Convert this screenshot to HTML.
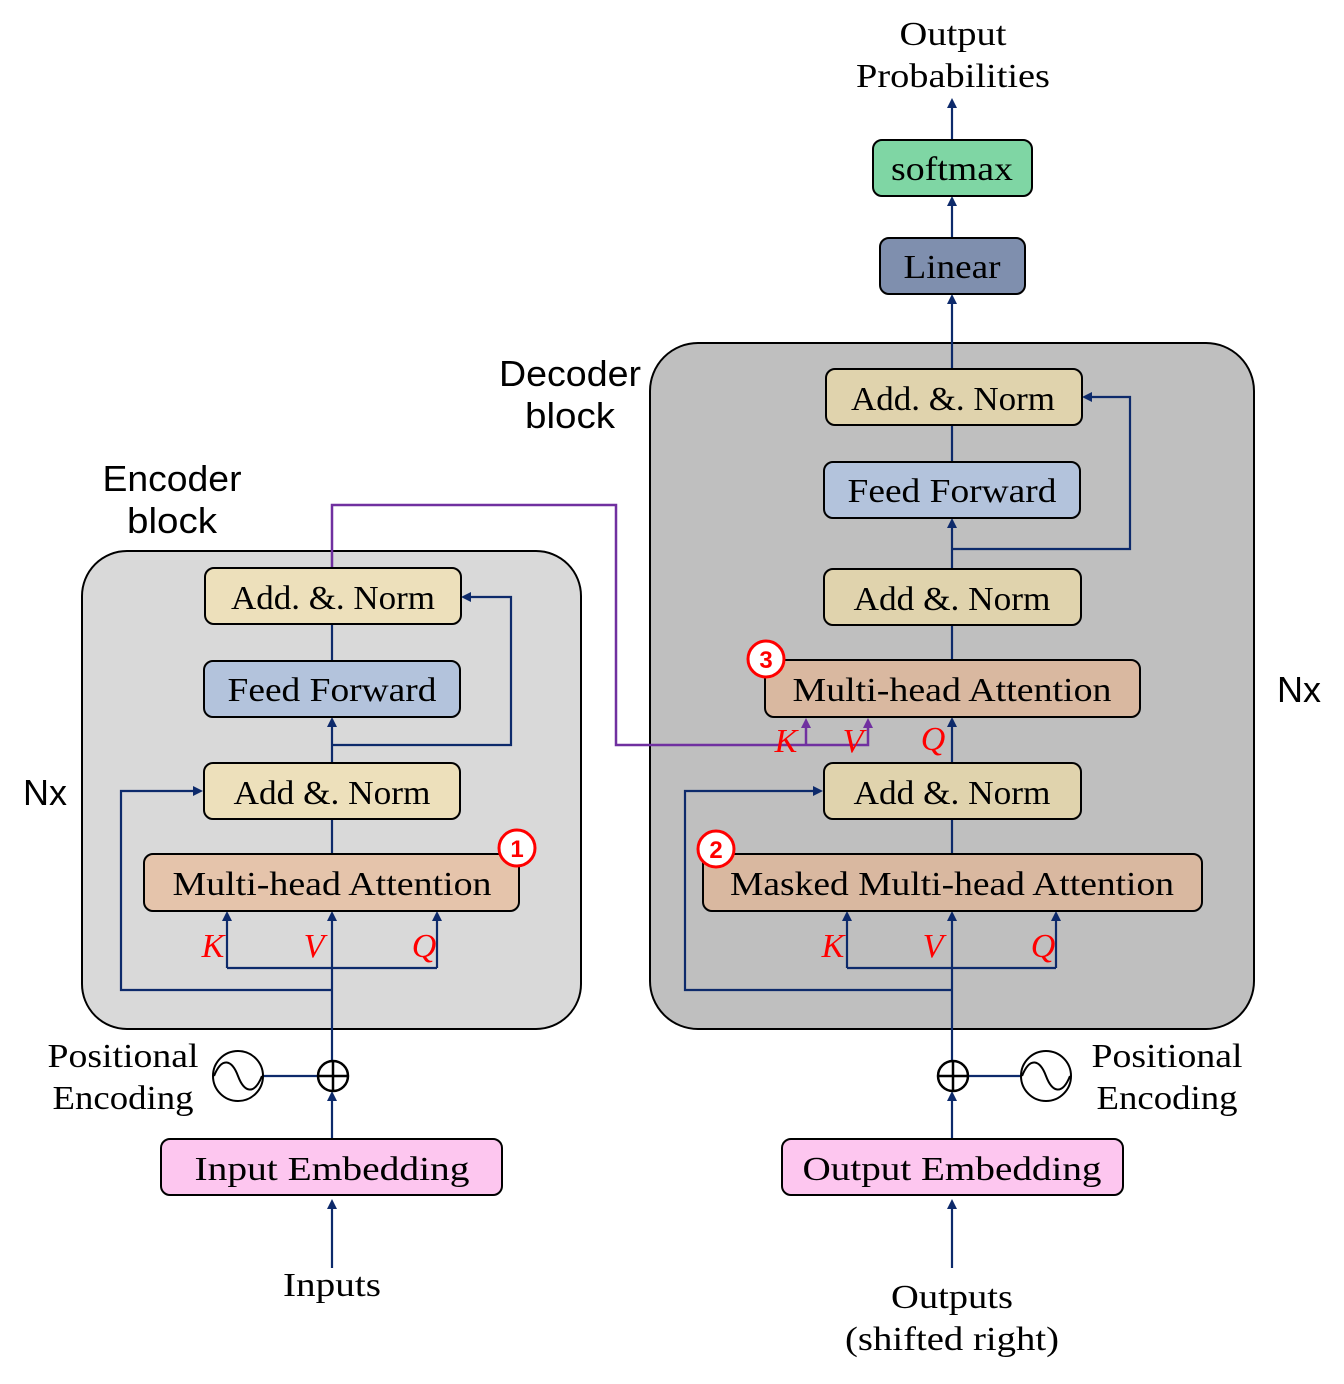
<!DOCTYPE html>
<html><head><style>body{margin:0;background:#fff}svg{display:block}</style></head><body>
<svg width="1344" height="1384" viewBox="0 0 1344 1384" xmlns="http://www.w3.org/2000/svg">
<defs>
<marker id="a" markerWidth="10" markerHeight="10" refX="5" refY="5" orient="auto" markerUnits="userSpaceOnUse"><path d="M0,0 L10,5 L0,10 z" fill="#0d2a6b"/></marker>
<marker id="p" markerWidth="10" markerHeight="10" refX="5" refY="5" orient="auto" markerUnits="userSpaceOnUse"><path d="M0,0 L10,5 L0,10 z" fill="#7030a0"/></marker>
</defs>
<rect x="82" y="551" width="499" height="478" rx="45" fill="#d9d9d9" stroke="#000" stroke-width="2"/>
<rect x="650" y="343" width="604" height="686" rx="48" fill="#bfbfbf" stroke="#000" stroke-width="2"/>
<g stroke="#0d2a6b" stroke-width="2.2" fill="none">
<path d="M332 1268 V1204" marker-end="url(#a)"/>
<path d="M332 1139 V1096" marker-end="url(#a)"/>
<path d="M332 1060 V916" marker-end="url(#a)"/>
<path d="M332 990 H121 V791 H198" marker-end="url(#a)"/>
<path d="M227 968 H437"/>
<path d="M227 968 V916" marker-end="url(#a)"/>
<path d="M437 968 V916" marker-end="url(#a)"/>
<path d="M332 854 V819"/>
<path d="M332 763 V722" marker-end="url(#a)"/>
<path d="M332 745 H511 V597 H466" marker-end="url(#a)"/>
<path d="M332 661 V624"/>
<path d="M952 1268 V1204" marker-end="url(#a)"/>
<path d="M952 1139 V1096" marker-end="url(#a)"/>
<path d="M952 1060 V916" marker-end="url(#a)"/>
<path d="M952 990 H685 V791 H818" marker-end="url(#a)"/>
<path d="M847 968 H1056"/>
<path d="M847 968 V916" marker-end="url(#a)"/>
<path d="M1056 968 V916" marker-end="url(#a)"/>
<path d="M952 854 V819"/>
<path d="M952 763 V722" marker-end="url(#a)"/>
<path d="M952 660 V625"/>
<path d="M952 569 V523" marker-end="url(#a)"/>
<path d="M952 549 H1130 V397 H1087" marker-end="url(#a)"/>
<path d="M952 462 V425"/>
<path d="M952 369 V299" marker-end="url(#a)"/>
<path d="M952 238 V201" marker-end="url(#a)"/>
<path d="M952 140 V103" marker-end="url(#a)"/>
<path d="M263 1076 H317"/>
<path d="M969 1076 H1021"/>
</g>
<g stroke="#7030a0" stroke-width="2.5" fill="none">
<path d="M332 568 V505 H616 V745 H868 V723" marker-end="url(#p)"/>
<path d="M806 745 V723" marker-end="url(#p)"/>
</g>
<g stroke="#000" stroke-width="2">
<rect x="205" y="568" width="256" height="56" rx="9" fill="#ede0bb"/>
<rect x="204" y="661" width="256" height="56" rx="9" fill="#b3c3dc"/>
<rect x="204" y="763" width="256" height="56" rx="9" fill="#ede0bb"/>
<rect x="144" y="854" width="375" height="57" rx="9" fill="#e5c4ab"/>
<rect x="826" y="369" width="256" height="56" rx="9" fill="#e0d3ad"/>
<rect x="824" y="462" width="256" height="56" rx="9" fill="#b3c3dc"/>
<rect x="824" y="569" width="257" height="56" rx="9" fill="#e0d3ad"/>
<rect x="765" y="660" width="375" height="57" rx="9" fill="#d9b8a0"/>
<rect x="824" y="763" width="257" height="56" rx="9" fill="#e0d3ad"/>
<rect x="703" y="854" width="499" height="57" rx="9" fill="#d9b8a0"/>
<rect x="880" y="238" width="145" height="56" rx="9" fill="#7f8fae"/>
<rect x="873" y="140" width="159" height="56" rx="9" fill="#7fd6a4"/>
<rect x="161" y="1139" width="341" height="56" rx="9" fill="#fdc6ef"/>
<rect x="782" y="1139" width="341" height="56" rx="9" fill="#fdc6ef"/>
<circle cx="333" cy="1076" r="15" fill="#fff" stroke-width="2.5"/>
<path d="M318 1076 H348 M333 1061 V1091" stroke-width="2.5"/>
<circle cx="953" cy="1076" r="15" fill="#fff" stroke-width="2.5"/>
<path d="M938 1076 H968 M953 1061 V1091" stroke-width="2.5"/>
<circle cx="238" cy="1076" r="25" fill="#fff"/>
<path d="M214 1076 C222 1056 232 1060 238 1076 C244 1092 254 1096 262 1076" fill="none"/>
<circle cx="1046" cy="1076" r="25" fill="#fff"/>
<path d="M1022 1076 C1030 1056 1040 1060 1046 1076 C1052 1092 1062 1096 1070 1076" fill="none"/>
</g>
<g stroke="#ff0000" stroke-width="3" fill="#fff">
<circle cx="517" cy="848" r="18"/><circle cx="716" cy="849" r="18"/><circle cx="766" cy="659" r="18"/>
</g>
<g font-family="'Liberation Sans',sans-serif" font-weight="bold" font-size="24" fill="#ff0000" text-anchor="middle">
<text x="517" y="857">1</text><text x="716" y="858">2</text><text x="766" y="668">3</text>
</g>
<g font-family="'Liberation Serif',serif" font-size="34" fill="#000" text-anchor="middle" lengthAdjust="spacingAndGlyphs">
<text x="333" y="609" textLength="204" lengthAdjust="spacingAndGlyphs">Add. &amp;. Norm</text>
<text x="332" y="701" textLength="209" lengthAdjust="spacingAndGlyphs">Feed Forward</text>
<text x="332" y="804" textLength="197" lengthAdjust="spacingAndGlyphs">Add &amp;. Norm</text>
<text x="332" y="895" textLength="319" lengthAdjust="spacingAndGlyphs">Multi-head Attention</text>
<text x="953" y="410" textLength="204" lengthAdjust="spacingAndGlyphs">Add. &amp;. Norm</text>
<text x="952" y="502" textLength="209" lengthAdjust="spacingAndGlyphs">Feed Forward</text>
<text x="952" y="610" textLength="197" lengthAdjust="spacingAndGlyphs">Add &amp;. Norm</text>
<text x="952" y="701" textLength="319" lengthAdjust="spacingAndGlyphs">Multi-head Attention</text>
<text x="952" y="804" textLength="197" lengthAdjust="spacingAndGlyphs">Add &amp;. Norm</text>
<text x="952" y="895" textLength="444" lengthAdjust="spacingAndGlyphs">Masked Multi-head Attention</text>
<text x="952" y="278" textLength="97" lengthAdjust="spacingAndGlyphs">Linear</text>
<text x="952" y="180" textLength="122" lengthAdjust="spacingAndGlyphs">softmax</text>
<text x="332" y="1180" textLength="275" lengthAdjust="spacingAndGlyphs">Input  Embedding</text>
<text x="952" y="1180" textLength="299" lengthAdjust="spacingAndGlyphs">Output  Embedding</text>
<text x="953" y="45" textLength="107" lengthAdjust="spacingAndGlyphs">Output</text>
<text x="953" y="87" textLength="194" lengthAdjust="spacingAndGlyphs">Probabilities</text>
<text x="123" y="1067" textLength="151" lengthAdjust="spacingAndGlyphs">Positional</text>
<text x="123" y="1109" textLength="141" lengthAdjust="spacingAndGlyphs">Encoding</text>
<text x="1167" y="1067" textLength="151" lengthAdjust="spacingAndGlyphs">Positional</text>
<text x="1167" y="1109" textLength="141" lengthAdjust="spacingAndGlyphs">Encoding</text>
<text x="332" y="1296" textLength="98" lengthAdjust="spacingAndGlyphs">Inputs</text>
<text x="952" y="1308" textLength="122" lengthAdjust="spacingAndGlyphs">Outputs</text>
<text x="952" y="1350" textLength="214" lengthAdjust="spacingAndGlyphs">(shifted right)</text>
</g>
<g font-family="'Liberation Serif',serif" font-style="italic" font-size="34" fill="#ff0000" text-anchor="middle">
<text x="213" y="957">K</text><text x="314" y="957">V</text><text x="424" y="957">Q</text>
<text x="833" y="957">K</text><text x="933" y="957">V</text><text x="1043" y="957">Q</text>
<text x="786" y="752">K</text><text x="853" y="752">V</text><text x="933" y="750">Q</text>
</g>
<g font-family="'Liberation Sans',sans-serif" font-size="36" fill="#000" text-anchor="middle">
<text x="570" y="386" textLength="142" lengthAdjust="spacingAndGlyphs">Decoder</text><text x="570" y="428" textLength="90" lengthAdjust="spacingAndGlyphs">block</text>
<text x="172" y="491" textLength="139" lengthAdjust="spacingAndGlyphs">Encoder</text><text x="172" y="533" textLength="90" lengthAdjust="spacingAndGlyphs">block</text>
<text x="45" y="805">Nx</text><text x="1299" y="702">Nx</text>
</g>
</svg>
</body></html>
